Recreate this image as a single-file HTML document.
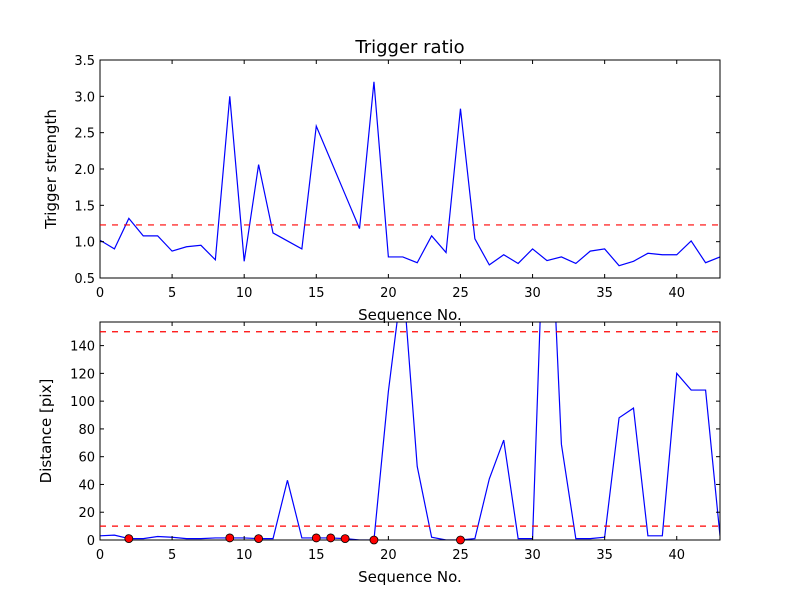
<!DOCTYPE html>
<html><head><meta charset="utf-8"><style>
body{margin:0;background:#fff}
svg text{font-family:"DejaVu Sans","Liberation Sans",sans-serif;fill:#000}
</style></head><body>
<svg id="chart" width="800" height="600" xmlns="http://www.w3.org/2000/svg">
<rect width="800" height="600" fill="#fff"/>
<g id="g"></g>
</svg>
<script>
const seq=[...Array(44).keys()];
const strength=[1.02,0.90,1.32,1.08,1.08,0.87,0.93,0.95,0.75,3.0,0.73,2.06,1.12,1.01,0.90,2.59,2.12,1.65,1.18,3.20,0.79,0.79,0.71,1.08,0.85,2.83,1.04,0.68,0.82,0.70,0.90,0.74,0.79,0.70,0.87,0.90,0.67,0.73,0.84,0.82,0.82,1.01,0.71,0.79];
const strengthThreshold=1.23;
const distance=[3,3.5,1,1,2.5,2,1,1,1.5,1.5,1.5,1,1,43,1.5,1.5,1.5,1,0,0,107,190,53,2,0,0,1,44,72,1,1,300,69,1,1,2,88,95,3,3,120,108,108,3];
const distThresholds=[10,150];
const markerIdx=[2,9,11,15,16,17,19,25];
const topTicks=[0.5,1.0,1.5,2.0,2.5,3.0,3.5];
const botTicks=[0,20,40,60,80,100,120,140];
const xTicks=[0,5,10,15,20,25,30,35,40];

const NS="http://www.w3.org/2000/svg";
const g=document.getElementById('g');
function el(t,a,txt){const e=document.createElementNS(NS,t);for(const k in a)e.setAttribute(k,a[k]);if(txt!==undefined)e.textContent=txt;g.appendChild(e);return e;}
const X0=100,X1=720;
const sx=v=>X0+(v-0)/(43-0)*(X1-X0);

function panel(top,bot,ymin,ymax,data,yticks,fmt,ylabel,name,clipId){
  const sy=v=>bot-(v-ymin)/(ymax-ymin)*(bot-top);
  const cp=document.createElementNS(NS,'clipPath');cp.setAttribute('id',clipId);
  const r=document.createElementNS(NS,'rect');r.setAttribute('x',X0);r.setAttribute('y',top);r.setAttribute('width',X1-X0);r.setAttribute('height',bot-top);cp.appendChild(r);g.appendChild(cp);
  const line=el('polyline',{points:data.map((v,i)=>sx(seq[i])+','+sy(v)).join(' '),fill:'none',stroke:'#0000ff','stroke-width':1.2,'clip-path':`url(#${clipId})`});
  
  
  for(const t of xTicks){
    const x=sx(t);
    el('line',{x1:x,x2:x,y1:bot,y2:bot-4,stroke:'#000'});el('line',{x1:x,x2:x,y1:top,y2:top+4,stroke:'#000'});
    const tl=el('text',{x:x,y:bot+19,'text-anchor':'middle','font-size':13},t);
    
    
  }
  for(const t of yticks){
    const y=sy(t);
    el('line',{x1:X0,x2:X0+4,y1:y,y2:y,stroke:'#000'});el('line',{x1:X1,x2:X1-4,y1:y,y2:y,stroke:'#000'});
    const tl=el('text',{x:X0-5,y:y+5,'text-anchor':'end','font-size':13},fmt(t));
    
    
  }
  el('rect',{x:X0,y:top,width:X1-X0,height:bot-top,fill:'none',stroke:'#000','stroke-width':1});
  const yl=el('text',{x:0,y:0,'text-anchor':'middle','font-size':15,transform:`translate(${name==='strength'?56:51},${(top+bot)/2}) rotate(-90)`},ylabel);
  
  
  const xl=el('text',{x:(X0+X1)/2,y:bot+42,'text-anchor':'middle','font-size':15},'Sequence No.');
  
  
  return sy;
}
const syT=panel(60,278,0.5,3.5,strength,topTicks,v=>v.toFixed(1),'Trigger strength','strength','c1');
const th=el('line',{x1:X0,x2:X1,y1:syT(strengthThreshold),y2:syT(strengthThreshold),stroke:'#ff0000','stroke-dasharray':'6,6','stroke-width':1.2});


const syB=panel(322,540,0,157,distance,botTicks,v=>String(v),'Distance [pix]','distance','c2');
for(const d of distThresholds){
  const l=el('line',{x1:X0,x2:X1,y1:syB(d),y2:syB(d),stroke:'#ff0000','stroke-dasharray':'6,6','stroke-width':1.2});
  
  
}
for(const i of markerIdx){
  const c=el('circle',{cx:sx(seq[i]),cy:syB(distance[i]),r:4,fill:'#ff0000',stroke:'#000','stroke-width':0.8});
  
  
}
const title=el('text',{x:410,y:53,'text-anchor':'middle','font-size':18},'Trigger ratio');


</script>
</body></html>
